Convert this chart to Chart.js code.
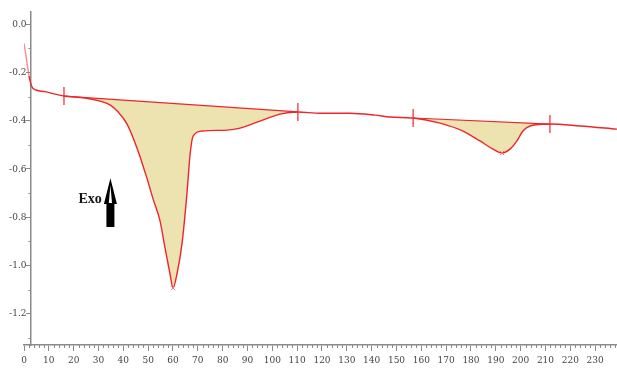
<!DOCTYPE html>
<html>
<head>
<meta charset="utf-8">
<script src="https://cdn.jsdelivr.net/npm/chart.js@4/dist/chart.umd.min.js"></script>
<style>
  html, body { margin: 0; padding: 0; background: #ffffff; }
  #wrap { width: 617px; height: 371px; }
</style>
</head>
<body>
<div id="wrap"><canvas id="dsc" width="617" height="371"></canvas></div>
<script>
// DSC thermogram: heat flow vs temperature (°C)
const temps = [0, 0.8, 2.0, 3.2, 4.8, 8.5, 16.1, 24.6, 30.6, 34.6, 37.5, 41.5, 45.5, 49.5, 52.0, 54.8,
  56.8, 58.8, 60.0, 61.6, 63.6, 65.6, 66.9, 68.1, 71.7, 81.8, 87.0, 95.0, 103.1, 110.3, 119.2,
  131.3, 141.4, 147.4, 156.7, 167.5, 176.8, 183.6, 188.9, 192.5, 195.7, 198.5, 200.9, 203.8,
  211.8, 223.9, 238.8];
const heatFlow = [-0.08, -0.13, -0.215, -0.26, -0.273, -0.28, -0.298, -0.306, -0.319, -0.335, -0.36,
  -0.414, -0.513, -0.638, -0.725, -0.816, -0.928, -1.035, -1.093, -1.035, -0.911, -0.704, -0.538,
  -0.464, -0.443, -0.439, -0.431, -0.402, -0.373, -0.364, -0.369, -0.369, -0.377, -0.385, -0.389,
  -0.41, -0.443, -0.484, -0.518, -0.534, -0.518, -0.484, -0.443, -0.422, -0.414, -0.422, -0.435];

// integration baselines (start / end of each peak)
const baseline1T = [16.1, 110.3];
const baseline1V = [-0.298, -0.364];
const baseline2T = [156.7, 211.8];
const baseline2V = [-0.389, -0.414];

// peak minima
const peakT = [60.0, 192.5];
const peakV = [-1.093, -0.534];

// axis ticks
const xTicks = [0, 10, 20, 30, 40, 50, 60, 70, 80, 90, 100, 110, 120, 130, 140, 150, 160, 170, 180, 190, 200, 210, 220, 230];
const yTicks = [0.0, -0.2, -0.4, -0.6, -0.8, -1.0, -1.2];

const RED = 'rgb(238,38,44)';
const FILL = 'rgb(237,227,176)';
const AXIS = '#8a8a8a';
const TICK_FONT = { family: "'DejaVu Serif Condensed', 'Liberation Sans Narrow', 'Liberation Serif', serif", size: 10 };

const pts = (xs, ys) => xs.map((x, i) => ({ x: x, y: ys[i] }));
const curve = pts(temps, heatFlow);
const between = (a, b) => curve.filter(p => p.x >= a - 1e-9 && p.x <= b + 1e-9);

// minor tick marks and the "Exo" direction annotation
const extras = {
  id: 'extras',
  afterDraw(chart) {
    const { ctx, scales: { x, y } } = chart;
    const yAxisX = x.getPixelForValue(2.8);
    const xAxisY = chart.chartArea.bottom;
    ctx.save();
    ctx.strokeStyle = AXIS;
    ctx.lineWidth = 1;
    ctx.beginPath();
    for (let v = 0; v <= 238; v += 2) {
      if (v % 10 === 0) continue;
      const px = Math.round(x.getPixelForValue(v)) + 0.5;
      ctx.moveTo(px, xAxisY);
      ctx.lineTo(px, xAxisY + 3);
    }
    for (let k = 1; k <= 13; k += 2) {
      const py = Math.round(y.getPixelForValue(-k / 10)) + 0.5;
      ctx.moveTo(yAxisX, py);
      ctx.lineTo(yAxisX - 2.5, py);
    }
    ctx.stroke();

    // "Exo" label
    ctx.fillStyle = '#141414';
    ctx.font = "bold 14px 'Liberation Serif', serif";
    ctx.textAlign = 'center';
    ctx.textBaseline = 'middle';
    ctx.fillText('Exo', x.getPixelForValue(26.6), y.getPixelForValue(-0.727));

    // upward arrow
    const ax = x.getPixelForValue(34.8);
    const top = y.getPixelForValue(-0.638);
    const neck = y.getPixelForValue(-0.745);
    const bottom = y.getPixelForValue(-0.84);
    ctx.fillStyle = '#000000';
    ctx.beginPath();
    ctx.moveTo(ax, top);
    ctx.lineTo(ax + 6.5, neck);
    ctx.lineTo(ax + 4, neck);
    ctx.lineTo(ax + 4, bottom);
    ctx.lineTo(ax - 4, bottom);
    ctx.lineTo(ax - 4, neck);
    ctx.lineTo(ax - 6.5, neck);
    ctx.closePath();
    ctx.fill();
    ctx.fillStyle = '#ffffff';
    ctx.beginPath();
    ctx.moveTo(ax, top + 7);
    ctx.lineTo(ax + 1.6, neck - 1);
    ctx.lineTo(ax - 1.6, neck - 1);
    ctx.closePath();
    ctx.fill();
    ctx.restore();
  }
};

new Chart(document.getElementById('dsc'), {
  type: 'scatter',
  data: {
    datasets: [
      {
        label: 'Heat flow',
        data: curve,
        showLine: true,
        borderColor: RED,
        borderWidth: 1.4,
        pointRadius: 0,
        cubicInterpolationMode: 'monotone',
        segment: { borderColor: c => c.p0DataIndex < 2 ? 'rgba(240,90,100,0.7)' : RED },
        order: 0
      },
      {
        label: 'Baseline 1',
        data: pts(baseline1T, baseline1V),
        showLine: true,
        borderColor: RED,
        borderWidth: 1.2,
        pointStyle: 'line',
        pointRotation: 90,
        pointRadius: 9,
        pointBorderColor: RED,
        pointBorderWidth: 1.2,
        order: 1
      },
      {
        label: 'Peak 1 area',
        data: between(baseline1T[0], baseline1T[1]),
        showLine: true,
        borderWidth: 0,
        pointRadius: 0,
        cubicInterpolationMode: 'monotone',
        backgroundColor: FILL,
        fill: { target: 1 },
        order: 3
      },
      {
        label: 'Baseline 2',
        data: pts(baseline2T, baseline2V),
        showLine: true,
        borderColor: RED,
        borderWidth: 1.2,
        pointStyle: 'line',
        pointRotation: 90,
        pointRadius: 9,
        pointBorderColor: RED,
        pointBorderWidth: 1.2,
        order: 1
      },
      {
        label: 'Peak 2 area',
        data: between(baseline2T[0], baseline2T[1]),
        showLine: true,
        borderWidth: 0,
        pointRadius: 0,
        cubicInterpolationMode: 'monotone',
        backgroundColor: FILL,
        fill: { target: 3 },
        order: 3
      },
      {
        label: 'Peak minima',
        data: pts(peakT, peakV),
        showLine: false,
        pointStyle: 'crossRot',
        pointRadius: 3,
        pointBorderColor: 'rgba(240,110,130,0.9)',
        pointBorderWidth: 1,
        order: -1
      }
    ]
  },
  options: {
    responsive: false,
    devicePixelRatio: 1,
    animation: false,
    layout: { autoPadding: false, padding: { left: 24, right: 0, top: 12, bottom: 2 } },
    plugins: { legend: { display: false }, tooltip: { enabled: false } },
    scales: {
      x: {
        type: 'linear',
        position: 'bottom',
        min: 0,
        max: 238.8,
        afterBuildTicks: s => { s.ticks = xTicks.map(v => ({ value: v })); },
        afterFit: s => { s.paddingRight = 0; },
        ticks: {
          autoSkip: false,
          maxRotation: 0,
          padding: 3,
          color: '#444',
          font: TICK_FONT,
          callback: v => String(v)
        },
        grid: { drawOnChartArea: false, tickLength: 6, color: AXIS, tickWidth: 1 },
        border: { color: AXIS, width: 1.5 }
      },
      y: {
        type: 'linear',
        position: { x: 2.8 },
        min: -1.329,
        max: 0.05,
        afterBuildTicks: s => { s.ticks = yTicks.map(v => ({ value: v })); },
        ticks: {
          padding: 4,
          color: '#444',
          font: TICK_FONT,
          callback: v => Number(v).toFixed(1) + '\u2002'
        },
        grid: { drawOnChartArea: false, tickLength: 4, color: AXIS, tickWidth: 1 },
        border: { color: AXIS, width: 1.5 }
      }
    }
  },
  plugins: [extras]
});
</script>
</body>
</html>
